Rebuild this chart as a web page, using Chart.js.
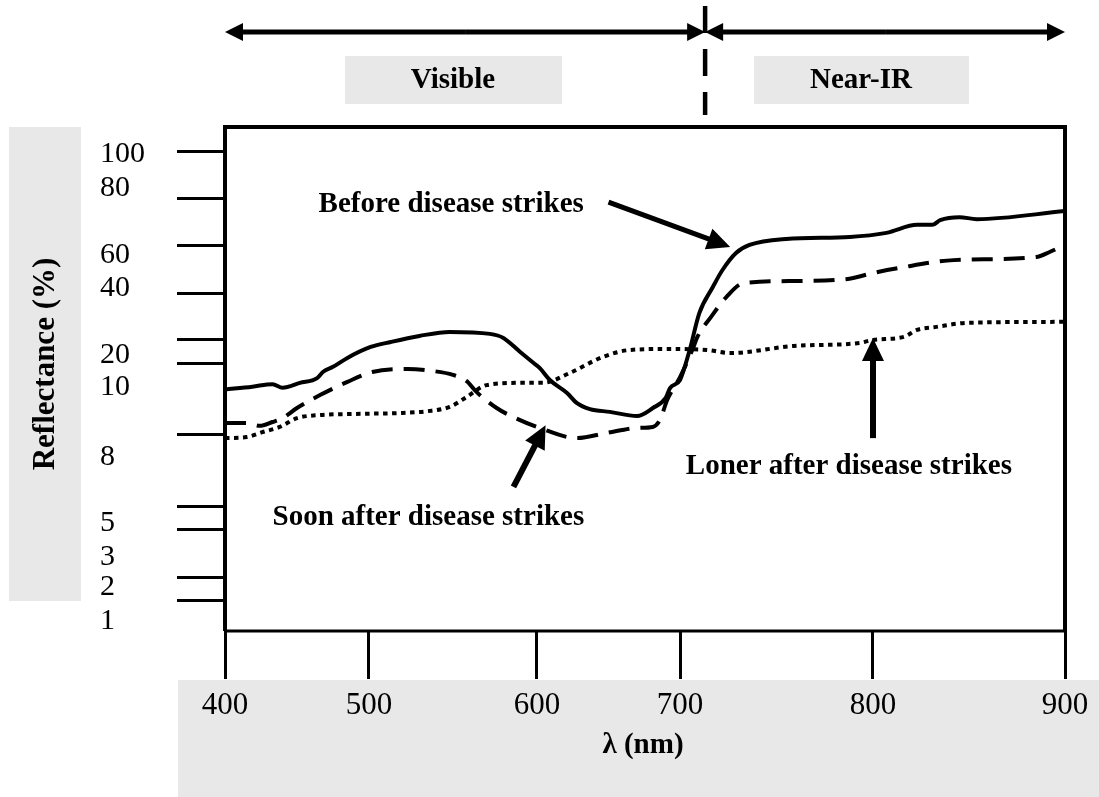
<!DOCTYPE html>
<html>
<head>
<meta charset="utf-8">
<script src="https://cdn.jsdelivr.net/npm/chart.js@4.4.0/dist/chart.umd.min.js"></script>
<style>
  html, body { margin: 0; padding: 0; background: #fff; }
  canvas { display: block; }
</style>
</head>
<body>
<canvas id="reflectanceChart" width="1099" height="797"></canvas>
<script>
// values: wavelength (nm) and reflectance (%)
const beforeNm = [400, 419, 433, 440, 452, 464, 468, 475, 485, 501, 513, 530, 548, 572, 580, 590, 598, 602, 609, 621, 628, 637, 651, 670, 681, 690, 693, 700, 705, 710, 717, 722, 729, 736, 755, 788, 807, 823, 831, 835, 845, 854, 900];
const beforeRefl = [9.93, 10.1, 10.9, 9.98, 11.3, 12.8, 14.7, 16.3, 19.1, 22.4, 23.9, 25.7, 26.9, 26.3, 25.1, 20.9, 17.5, 15.9, 12.2, 9.83, 9.54, 9.37, 9.29, 9.17, 9.4, 9.69, 9.97, 12.2, 21.5, 32.5, 40.6, 50.9, 60.6, 63, 64.8, 65.4, 66.6, 69, 69, 70.4, 71.3, 70.7, 73.1];

const soonNm = [400, 415, 424, 433, 440, 450, 466, 485, 502, 523, 538, 550, 558, 564, 576, 586, 602, 628, 649, 670, 681, 686, 691, 700, 707, 709, 716, 724, 733, 759, 787, 800, 813, 842, 885, 892, 900];
const soonRefl = [8.97, 8.97, 8.89, 9.0, 9.11, 9.4, 9.77, 11.6, 14.7, 15.6, 15, 13.8, 11.9, 9.86, 9.4, 9.14, 8.83, 8.54, 8.69, 8.83, 8.86, 9.06, 9.63, 13.1, 22.4, 25.4, 31.3, 37.3, 43, 44.2, 45.5, 49.1, 52, 56.9, 58.8, 60.9, 63];

const lonerNm = [400, 415, 426, 438, 450, 466, 489, 520, 535, 548, 558, 570, 590, 604, 623, 646, 665, 691, 714, 726, 759, 793, 800, 816, 823, 833, 849, 900];
const lonerRefl = [8.54, 8.57, 8.71, 8.86, 9.11, 9.2, 9.23, 9.26, 9.31, 9.43, 9.71, 10.6, 11.3, 11.3, 14.4, 19.4, 21.5, 21.8, 21.5, 20.6, 22.7, 23.6, 24.5, 25.4, 27.5, 28.4, 29.6, 29.9];

// axis ticks (the figure's axes are not evenly spaced)
const xTickValues = [400, 500, 600, 700, 800, 900];
const yTickLabels = [1, 2, 3, 5, 8, 10, 20, 40, 60, 80, 100];
const yTickMarks = [1.6, 2.32, 4.61, 5.77, 8.63, 17.3, 24.5, 38.5, 62.8, 76.9, 101.4];

const visibleEdgeNm = 713; // dashed divider between Visible and Near-IR

// where each tick value sits along its axis (0 = start, 1 = end)
const axisStops = {
    x: { values: xTickValues, fracs: [0, 0.1714, 0.3714, 0.5417, 0.7714, 1] },
    y: { values: yTickLabels, fracs: [0.0198, 0.0873, 0.1468, 0.2143, 0.3452, 0.4841, 0.5476, 0.6806, 0.746, 0.879, 0.9464] }
};

const FONT = '"Liberation Serif", "Times New Roman", serif';

function toDecimal(v, s) {
    let i = 1;
    while (i < s.values.length - 1 && v > s.values[i]) i++;
    const t = (v - s.values[i - 1]) / (s.values[i] - s.values[i - 1]);
    return s.fracs[i - 1] + t * (s.fracs[i] - s.fracs[i - 1]);
}

function fromDecimal(d, s) {
    let i = 1;
    while (i < s.fracs.length - 1 && d > s.fracs[i]) i++;
    const t = (d - s.fracs[i - 1]) / (s.fracs[i] - s.fracs[i - 1]);
    return s.values[i - 1] + t * (s.values[i] - s.values[i - 1]);
}

// piecewise linear scale, so the drawn curves follow the uneven tick spacing
class SegmentedScale extends Chart.LinearScale {
    static id = 'segmented';
    static defaults = Chart.LinearScale.defaults;
    getPixelForValue(value) {
        return this.getPixelForDecimal(toDecimal(value, axisStops[this.axis]));
    }
    getValueForPixel(pixel) {
        return fromDecimal(this.getDecimalForPixel(pixel), axisStops[this.axis]);
    }
}
Chart.register(SegmentedScale);

const notes = [
    { text: 'Before disease strikes', x: 465, y: 75, from: [650, 75.8], to: [726, 62.4], width: 5 },
    { text: 'Soon after disease strikes', x: 433, y: 5.27, from: [586, 6.64], to: [606, 8.91], width: 6 },
    { text: 'Loner after disease strikes', x: 703, y: 7.55, from: [800, 8.54], to: [800, 25.1], width: 6 }
];

function arrow(ctx, x1, y1, x2, y2, w, len, half) {
    const a = Math.atan2(y2 - y1, x2 - x1);
    const bx = x2 - Math.cos(a) * len, by = y2 - Math.sin(a) * len;
    ctx.lineWidth = w;
    ctx.beginPath();
    ctx.moveTo(x1, y1);
    ctx.lineTo(bx + Math.cos(a) * 2, by + Math.sin(a) * 2);
    ctx.stroke();
    ctx.beginPath();
    ctx.moveTo(x2, y2);
    ctx.lineTo(bx + Math.sin(a) * half, by - Math.cos(a) * half);
    ctx.lineTo(bx - Math.sin(a) * half, by + Math.cos(a) * half);
    ctx.closePath();
    ctx.fill();
}

const decor = {
    id: 'decor',
    beforeDraw(chart) {
        const ctx = chart.ctx;
        const area = chart.chartArea;
        ctx.save();
        ctx.fillStyle = '#e8e8e8';
        ctx.fillRect(9, area.top, 72, 474);
        ctx.fillRect(178, 680, 921, 117);
        ctx.fillRect(345, 56, 217, 48);
        ctx.fillRect(754, 56, 215, 48);

        ctx.fillStyle = '#000';
        ctx.textAlign = 'center';
        ctx.textBaseline = 'middle';
        ctx.font = 'bold 29px ' + FONT;
        ctx.fillText('Visible', 453, 81);
        ctx.fillText('Near-IR', 861, 81);
        ctx.fillText('\u03bb (nm)', 643, 746);
        ctx.translate(46, 364);
        ctx.rotate(-Math.PI / 2);
        ctx.font = 'bold 31px ' + FONT;
        ctx.fillText('Reflectance (%)', 0, 0);
        ctx.restore();
    },
    afterDatasetsDraw(chart) {
        const ctx = chart.ctx;
        const area = chart.chartArea;
        const xs = chart.scales.x, ys = chart.scales.y;
        ctx.save();
        ctx.strokeStyle = '#000';
        ctx.fillStyle = '#000';

        // plot frame
        ctx.lineWidth = 4;
        ctx.beginPath();
        ctx.moveTo(area.left, area.bottom);
        ctx.lineTo(area.left, area.top);
        ctx.lineTo(area.right, area.top);
        ctx.lineTo(area.right, area.bottom);
        ctx.stroke();
        ctx.lineWidth = 3;
        ctx.beginPath();
        ctx.moveTo(area.left, area.bottom);
        ctx.lineTo(area.right, area.bottom);
        ctx.stroke();

        // Visible / Near-IR range arrows
        const xl = xs.getPixelForValue(xTickValues[0]);
        const xm = xs.getPixelForValue(visibleEdgeNm);
        const xr = xs.getPixelForValue(xTickValues[xTickValues.length - 1]);
        const ay = area.top - 95;
        arrow(ctx, (xl + xm) / 2, ay, xl, ay, 5, 18, 9);
        arrow(ctx, (xl + xm) / 2, ay, xm, ay, 5, 18, 9);
        arrow(ctx, (xm + xr) / 2, ay, xm, ay, 5, 18, 9);
        arrow(ctx, (xm + xr) / 2, ay, xr, ay, 5, 18, 9);
        ctx.lineWidth = 4.5;
        ctx.setLineDash([27, 16]);
        ctx.beginPath();
        ctx.moveTo(xm, 6);
        ctx.lineTo(xm, area.top - 12);
        ctx.stroke();
        ctx.setLineDash([]);

        // callouts
        ctx.font = 'bold 29px ' + FONT;
        ctx.textAlign = 'left';
        ctx.textBaseline = 'middle';
        notes.forEach(n => {
            ctx.fillText(n.text, xs.getPixelForValue(n.x), ys.getPixelForValue(n.y));
            arrow(ctx,
                xs.getPixelForValue(n.from[0]), ys.getPixelForValue(n.from[1]),
                xs.getPixelForValue(n.to[0]), ys.getPixelForValue(n.to[1]),
                n.width, 23, 11);
        });
        ctx.restore();
    }
};

function pairs(xs, ys) {
    return xs.map((x, i) => ({ x: x, y: ys[i] }));
}

const ctxRefl = document.getElementById('reflectanceChart').getContext('2d');
const reflectanceChart = new Chart(ctxRefl, {
    type: 'line',
    data: {
        datasets: [
            {
                label: 'Before disease strikes',
                data: pairs(beforeNm, beforeRefl),
                borderColor: '#000',
                borderWidth: 4
            },
            {
                label: 'Soon after disease strikes',
                data: pairs(soonNm, soonRefl),
                borderColor: '#000',
                borderWidth: 4,
                borderDash: [21, 11]
            },
            {
                label: 'Loner after disease strikes',
                data: pairs(lonerNm, lonerRefl),
                borderColor: '#000',
                borderWidth: 4,
                borderDash: [4.5, 4.5]
            }
        ]
    },
    options: {
        responsive: false,
        animation: false,
        events: [],
        layout: {
            padding: { left: 100, top: 127, right: 34, bottom: 0 }
        },
        elements: {
            line: { cubicInterpolationMode: 'monotone', fill: false },
            point: { radius: 0 }
        },
        plugins: {
            legend: { display: false },
            tooltip: { enabled: false }
        },
        scales: {
            x: {
                type: 'segmented',
                min: 400,
                max: 900,
                afterBuildTicks: scale => {
                    scale.ticks = xTickValues.map(v => ({ value: v }));
                },
                afterFit: scale => { scale.height = 166; },
                border: { display: false },
                grid: {
                    drawOnChartArea: false,
                    drawTicks: true,
                    tickLength: 48,
                    tickWidth: 3,
                    tickColor: '#000'
                },
                ticks: {
                    autoSkip: false,
                    maxRotation: 0,
                    padding: 8,
                    color: '#000',
                    font: { family: FONT, size: 31 }
                }
            },
            y: {
                type: 'segmented',
                min: 0.7,
                max: 116,
                afterBuildTicks: scale => {
                    const marks = yTickMarks.map(v => ({ value: v, mark: true }));
                    const labels = yTickLabels.map(v => ({ value: v, mark: false }));
                    scale.ticks = marks.concat(labels);
                },
                afterFit: scale => { scale.width = 125; },
                border: { display: false },
                grid: {
                    drawOnChartArea: false,
                    drawTicks: true,
                    tickLength: 48,
                    tickWidth: 3,
                    tickColor: c => (c.tick && c.tick.mark ? '#000' : 'rgba(0,0,0,0)')
                },
                ticks: {
                    autoSkip: false,
                    crossAlign: 'far',
                    color: '#000',
                    font: { family: FONT, size: 30 },
                    callback: (value, index, ticks) => (ticks[index].mark ? '' : String(value))
                }
            }
        }
    },
    plugins: [decor]
});
</script>
</body>
</html>
